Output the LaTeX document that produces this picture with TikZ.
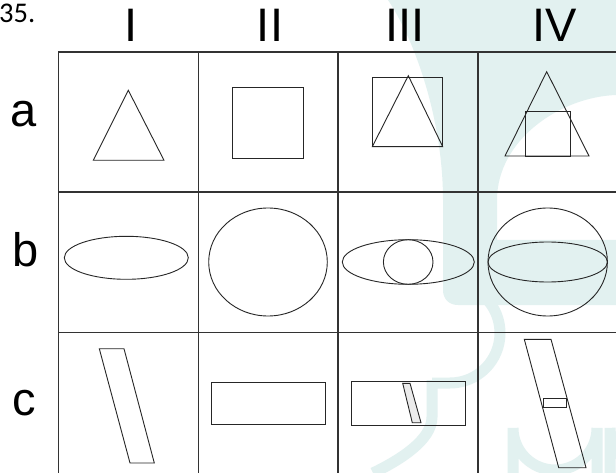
\documentclass[tikz,border=0pt]{standalone}
\usepackage{fontspec}
\setmainfont{Liberation Sans}
\newfontfamily\numfont{Carlito}
\definecolor{wm}{RGB}{226,241,240}
\begin{document}
\begin{tikzpicture}[x=1pt,y=-1pt,
  gridline/.style={line width=1.5pt, draw=black!80},
  shp/.style={line width=0.9pt, draw=black!85},
  lbl/.style={font=\fontsize{47}{47}\selectfont, inner sep=0pt, anchor=base},
  wmfill/.style={fill=wm, draw=none},
  wmstroke/.style={draw=wm, line width=11pt}]
\useasboundingbox (0,0) rectangle (616,473);
\fill[white] (0,0) rectangle (616,473);
% watermark
\fill[wmfill] (443,290) -- (443,200) .. controls (443,120) and (415,40) .. (388,0) -- (616,0) -- (616,95)
  .. controls (560,97) and (497,140) .. (497,200) -- (497,240) -- (616,240) -- (616,305) -- (458,305)
  .. controls (449,305) and (443,299) .. (443,290) -- cycle;
\draw[wmstroke] (432,380) -- (432,417) .. controls (432,440) and (400,460) .. (373,473);
\draw[wmstroke] (432,383) -- (450,383) arc[start angle=270, end angle=430, radius=50pt];
\draw[wmstroke] (513,473) -- (513,428) arc[start angle=180, end angle=360, radius=42pt] -- (597,473);
\draw[wmstroke] (610,473) -- (610,428) arc[start angle=180, end angle=240, radius=42pt];
% header labels
\node[font=\numfont\fontsize{28.5}{28.5}\selectfont, inner sep=0pt, anchor=base west] (num) at (-1,23) {35.};
\node[lbl] (h1) at (131,42) {I};
\node[lbl] (h2) at (270,42) {II};
\node[lbl] (h3) at (404.7,42) {III};
\node[lbl] (h4) at (554.7,42) {IV};
\node[lbl] (ra) at (24,127) {a};
\node[lbl] (rb) at (26,267) {b};
\node[lbl] (rc) at (24,415) {c};
% grid
\draw[gridline] (58,52) -- (616,52);
\draw[gridline] (58,192) -- (616,192);
\draw[gridline] (58,332.5) -- (616,332.5);
\foreach \x in {58.5,198.5,338,478}{\draw[gridline] (\x,52) -- (\x,473);}
% row a
\draw[shp] (128.3,90.3) -- (164,160.3) -- (93.3,160.3) -- cycle;
\draw[shp] (232.7,87) rectangle (303.3,158);
\draw[shp] (372.3,77.3) rectangle (442.7,146.7);
\draw[shp] (408.3,75.7) -- (442.7,146.7) -- (372.3,146.7) -- cycle;
\draw[shp] (546.7,71.7) -- (589,156) -- (505,156) -- cycle;
\draw[shp] (525.3,111) rectangle (570.3,156);
% row b
\draw[shp] (126.3,257.8) ellipse [x radius=62pt, y radius=21.5pt];
\draw[shp] (268,262) ellipse [x radius=59.3pt, y radius=54pt];
\draw[shp] (408.3,262) ellipse [x radius=66pt, y radius=22.3pt];
\draw[shp] (408.2,262) ellipse [x radius=24.8pt, y radius=22.3pt];
\draw[shp] (547.7,262) ellipse [x radius=59.7pt, y radius=54pt];
\draw[shp] (547.7,262) ellipse [x radius=59.7pt, y radius=20pt];
% row c
\draw[shp] (99.3,348.7) -- (124,348.7) -- (154.3,463) -- (130,463) -- cycle;
\draw[shp] (211.3,382) rectangle (325,424.7);
\draw[shp] (351.7,381.7) rectangle (465,425);
\draw[shp, fill=black!8] (402.7,383.3) -- (410,383.3) -- (421,422.7) -- (412.3,422.7) -- cycle;
\draw[shp] (524.3,339.3) -- (551,339.3) -- (586,467.7) -- (558.7,467.7) -- cycle;
\draw[shp] (543.3,398.3) rectangle (566.7,407.3);
\end{tikzpicture}
\end{document}
